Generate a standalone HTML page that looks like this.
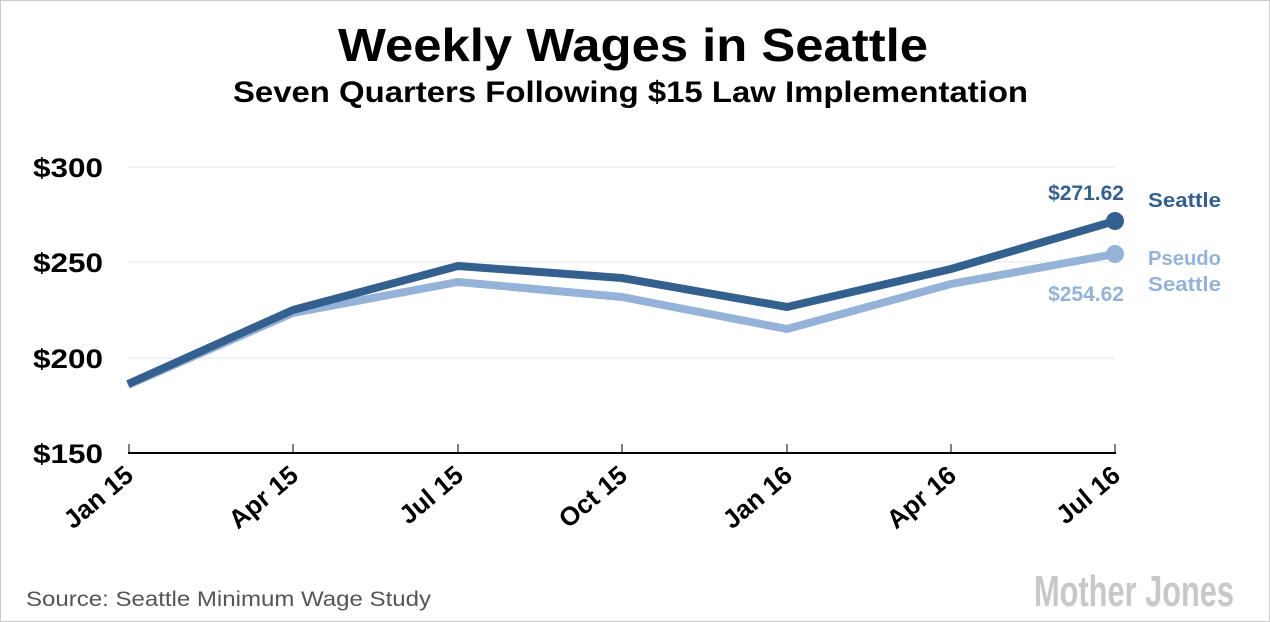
<!DOCTYPE html>
<html><head><style>
html,body{margin:0;padding:0;background:#fff;}
svg{display:block;}
text{font-family:"Liberation Sans",sans-serif;}
</style></head><body>
<svg width="1270" height="622" viewBox="0 0 1270 622">
<rect x="0.5" y="0.5" width="1269" height="621" fill="#fff" stroke="#ccc"/>
<text x="338" y="61" font-size="46" font-weight="bold" fill="#000" textLength="590" lengthAdjust="spacingAndGlyphs">Weekly Wages in Seattle</text>
<text x="233" y="102" font-size="30" font-weight="bold" fill="#000" textLength="795" lengthAdjust="spacingAndGlyphs">Seven Quarters Following $15 Law Implementation</text>
<g stroke="#e6e6e6" stroke-width="1">
<line x1="128" y1="167" x2="1115" y2="167"/>
<line x1="128" y1="262" x2="1115" y2="262"/>
<line x1="128" y1="358" x2="1115" y2="358"/>
</g>
<g font-size="27" font-weight="bold" fill="#000">
<text x="33" y="177" textLength="70" lengthAdjust="spacingAndGlyphs">$300</text>
<text x="33" y="272" textLength="70" lengthAdjust="spacingAndGlyphs">$250</text>
<text x="33" y="368" textLength="70" lengthAdjust="spacingAndGlyphs">$200</text>
<text x="33" y="463" textLength="70" lengthAdjust="spacingAndGlyphs">$150</text>
</g>
<line x1="128" y1="453" x2="1116" y2="453" stroke="#000" stroke-width="2"/>
<g stroke="#000" stroke-width="1">
<line x1="129" y1="444" x2="129" y2="453"/><line x1="293" y1="444" x2="293" y2="453"/>
<line x1="458" y1="444" x2="458" y2="453"/><line x1="622" y1="444" x2="622" y2="453"/>
<line x1="787" y1="444" x2="787" y2="453"/><line x1="951" y1="444" x2="951" y2="453"/>
<line x1="1115" y1="444" x2="1115" y2="453"/>
</g>
<g font-size="26" font-weight="bold" fill="#000" text-anchor="end">
<text transform="translate(135,478) rotate(-40)">Jan 15</text>
<text transform="translate(300,478) rotate(-40)">Apr 15</text>
<text transform="translate(465,478) rotate(-40)">Jul 15</text>
<text transform="translate(629,478) rotate(-40)">Oct 15</text>
<text transform="translate(794,478) rotate(-40)">Jan 16</text>
<text transform="translate(958,478) rotate(-40)">Apr 16</text>
<text transform="translate(1122,478) rotate(-40)">Jul 16</text>
</g>
<polyline fill="none" stroke="#95b3d9" stroke-width="8" stroke-linejoin="round" points="128,385 293,313 458,282 622,297 787,329 951,284 1115,254"/>
<polyline fill="none" stroke="#34608f" stroke-width="8" stroke-linejoin="round" points="128,384 293,310 458,266 622,278 787,307 951,269 1115,221"/>
<circle cx="1115" cy="254" r="9" fill="#95b3d9"/>
<circle cx="1115" cy="221" r="9" fill="#34608f"/>
<text x="1124" y="200" text-anchor="end" font-size="21" font-weight="bold" fill="#34608f">$271.62</text>
<text x="1124" y="301" text-anchor="end" font-size="21" font-weight="bold" fill="#95b3d9">$254.62</text>
<text x="1148" y="207" font-size="20" font-weight="bold" fill="#34608f" textLength="73" lengthAdjust="spacingAndGlyphs">Seattle</text>
<text x="1148" y="265" font-size="20" font-weight="bold" fill="#95b3d9" textLength="73" lengthAdjust="spacingAndGlyphs">Pseudo</text>
<text x="1148" y="291" font-size="20" font-weight="bold" fill="#95b3d9" textLength="73" lengthAdjust="spacingAndGlyphs">Seattle</text>
<text x="26" y="606" font-size="21" fill="#555" textLength="405" lengthAdjust="spacingAndGlyphs">Source: Seattle Minimum Wage Study</text>
<text x="1034" y="606" font-size="44" font-weight="bold" fill="#c8c8c8" textLength="200" lengthAdjust="spacingAndGlyphs">Mother Jones</text>
</svg>
</body></html>
